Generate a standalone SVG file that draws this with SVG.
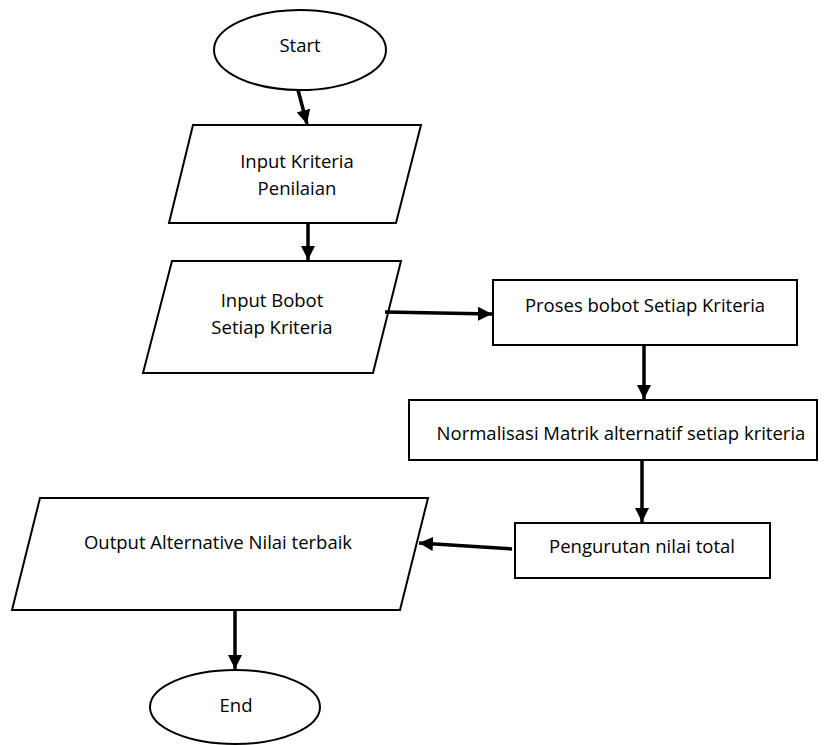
<svg xmlns="http://www.w3.org/2000/svg" width="824" height="745" viewBox="0 0 824 745">
<style>
.s{fill:#fff;stroke:#000;stroke-width:2}
.t{font-family:"Open Sans","Liberation Sans",sans-serif;font-size:18.5px;fill:#000;text-anchor:middle}
.c{fill:none;stroke:#000;stroke-width:3.5}
</style>
<defs>
<marker id="ah" viewBox="0 0 10 10" refX="10" refY="5" markerWidth="4" markerHeight="4" orient="auto" markerUnits="strokeWidth">
<path d="M0,0 L10,5 L0,10 z" fill="#000"/>
</marker>
</defs>
<rect width="824" height="745" fill="#fff"/>
<g id="start">
<ellipse class="s" cx="300" cy="50" rx="86" ry="40"/>
<text class="t" x="300" y="52">Start</text>
</g>
<g id="input-kriteria">
<polygon class="s" points="193,125 421,125 396,223 169,223"/>
<text class="t" x="297" y="168">Input Kriteria</text>
<text class="t" x="297" y="195">Penilaian</text>
</g>
<g id="input-bobot">
<polygon class="s" points="172,261 401,261 373,373 143,373"/>
<text class="t" x="272" y="307">Input Bobot</text>
<text class="t" x="272" y="334">Setiap Kriteria</text>
</g>
<g id="proses">
<rect class="s" x="493" y="280" width="304" height="65"/>
<text class="t" x="645" y="312">Proses bobot Setiap Kriteria</text>
</g>
<g id="normalisasi">
<rect class="s" x="409" y="400" width="408" height="60"/>
<text class="t" x="621" y="440">Normalisasi Matrik alternatif setiap kriteria</text>
</g>
<g id="pengurutan">
<rect class="s" x="515" y="523" width="255" height="55"/>
<text class="t" x="642" y="553">Pengurutan nilai total</text>
</g>
<g id="output">
<polygon class="s" points="40,498 428,498 400,610 12,610"/>
<text class="t" x="218" y="549">Output Alternative Nilai terbaik</text>
</g>
<g id="end">
<ellipse class="s" cx="235" cy="707" rx="85" ry="37"/>
<text class="t" x="236" y="712">End</text>
</g>
<g id="connectors">
<line class="c" x1="298" y1="90" x2="307" y2="124" marker-end="url(#ah)"/>
<line class="c" x1="308" y1="223" x2="308" y2="260" marker-end="url(#ah)"/>
<line class="c" x1="385" y1="312" x2="492" y2="314" marker-end="url(#ah)"/>
<line class="c" x1="644" y1="345" x2="644" y2="399" marker-end="url(#ah)"/>
<line class="c" x1="642" y1="460" x2="642" y2="522" marker-end="url(#ah)"/>
<line class="c" x1="512" y1="549" x2="419" y2="543" marker-end="url(#ah)"/>
<line class="c" x1="235" y1="610" x2="235" y2="669" marker-end="url(#ah)"/>
</g>
</svg>
